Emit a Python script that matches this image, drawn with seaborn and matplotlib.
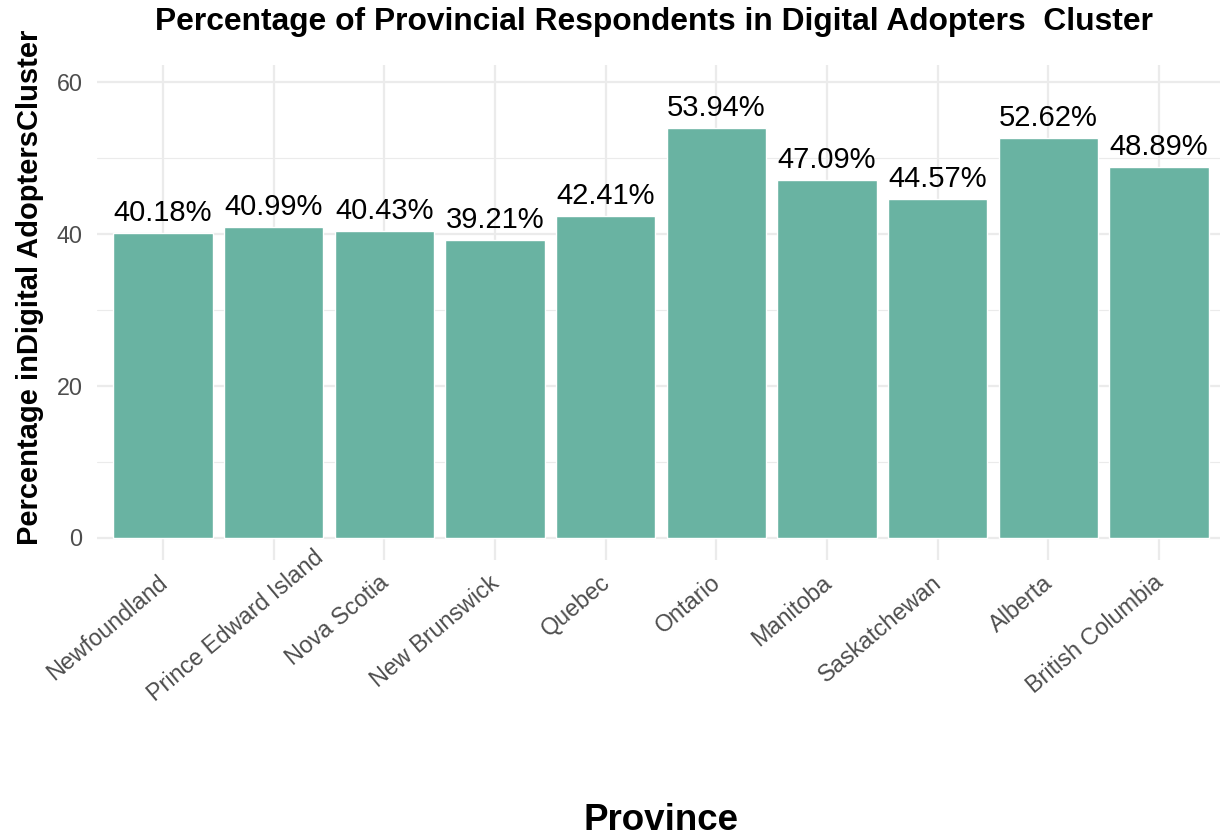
import matplotlib
matplotlib.use("Agg")
import matplotlib.pyplot as plt
import matplotlib.transforms as mtransforms
import seaborn as sns
import pandas as pd
from matplotlib.ticker import MultipleLocator

provinces = ["Newfoundland", "Prince Edward Island", "Nova Scotia", "New Brunswick",
             "Quebec", "Ontario", "Manitoba", "Saskatchewan", "Alberta", "British Columbia"]
percentages = [40.18, 40.99, 40.43, 39.21, 42.41, 53.94, 47.09, 44.57, 52.62, 48.89]

df = pd.DataFrame({"Province": provinces, "Percentage": percentages})

sns.set_theme(style="whitegrid")
plt.rcParams["font.family"] = ["Liberation Sans", "DejaVu Sans"]

W, H = 1220, 839
fig = plt.figure(figsize=(W / 100, H / 100), dpi=100)
left_px, right_px = 96.6, 1225.4
top_px, bot_px = 65, 560
ax = fig.add_axes([left_px / W, 1 - bot_px / H, (right_px - left_px) / W, (bot_px - top_px) / H])

sns.barplot(data=df, x="Province", y="Percentage", color="#69B3A2", width=0.9,
            saturation=1, ax=ax, zorder=3)

ymax = max(percentages) * 1.1
ax.set_ylim(-0.05 * ymax, 1.05 * ymax)
ax.set_xlim(-0.6, len(provinces) - 0.4)

for i, v in enumerate(percentages):
    ax.text(i, v + 0.8, f"{v:.2f}%", ha="center", va="bottom", fontsize=21, color="black", zorder=4)

ax.yaxis.set_major_locator(MultipleLocator(20))
ax.yaxis.set_minor_locator(MultipleLocator(10))
ax.grid(True, which="major", axis="both", color="#EBEBEB", linewidth=1.6, zorder=0)
ax.grid(True, which="minor", axis="y", color="#EBEBEB", linewidth=0.8, zorder=0)
ax.set_axisbelow(True)
for s in ax.spines.values():
    s.set_visible(False)
ax.set_facecolor("white")

ax.tick_params(axis="y", which="both", length=0, pad=10, labelsize=16.8, labelcolor="#4D4D4D")
ax.tick_params(axis="x", length=0, pad=8, labelsize=16.8, labelcolor="#4D4D4D")
plt.setp(ax.get_xticklabels(), rotation=40, ha="right", va="top", rotation_mode="anchor")
for lab in ax.get_xticklabels():
    dx = -0.06
    dy = 0.0
    if lab.get_text() == "Prince Edward Island":
        dx, dy = 0.39, 0.25
    lab.set_transform(lab.get_transform() +
                      mtransforms.ScaledTranslation(dx, dy, fig.dpi_scale_trans))

ax.set_xlabel("")
ax.set_ylabel("")
fig.text(30 / W, 1 - 287 / H, "Percentage inDigital AdoptersCluster", rotation=90,
         ha="center", va="center", fontsize=21, fontweight="bold", color="black")
fig.text(661 / W, 1 - 820 / H, "Province", ha="center", va="center",
         fontsize=26.5, fontweight="bold", color="black")
fig.text(654 / W, 1 - 22 / H, "Percentage of Provincial Respondents in Digital Adopters  Cluster",
         ha="center", va="center", fontsize=22.9, fontweight="bold", color="black")

fig.savefig("out.png", dpi=100, facecolor="white")
